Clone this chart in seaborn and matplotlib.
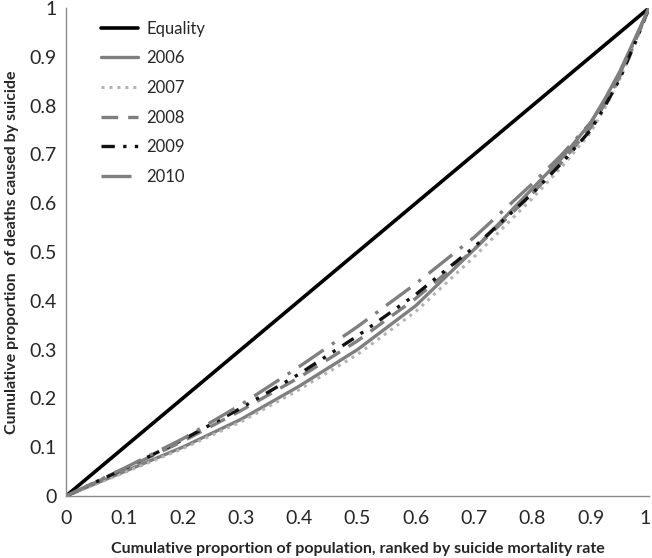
import numpy as np
import pandas as pd
import matplotlib
matplotlib.use("Agg")
import matplotlib.pyplot as plt
import matplotlib.transforms as mtransforms
import seaborn as sns


# =========================
# Data
# =========================
population_share = [0, 0.1, 0.2, 0.3, 0.4, 0.5, 0.6, 0.7, 0.8, 0.85, 0.9, 0.925, 0.95, 0.975, 1]

deaths_2006 = [0, 0.050, 0.100, 0.157, 0.225, 0.300, 0.390, 0.505, 0.630, 0.692, 0.765, 0.815, 0.870, 0.935, 1]
deaths_2007 = [0, 0.048, 0.097, 0.152, 0.218, 0.290, 0.378, 0.490, 0.610, 0.674, 0.745, 0.797, 0.855, 0.925, 1]
deaths_2008 = [0, 0.055, 0.112, 0.175, 0.243, 0.318, 0.405, 0.505, 0.620, 0.684, 0.755, 0.805, 0.860, 0.928, 1]
deaths_2009 = [0, 0.056, 0.115, 0.180, 0.250, 0.328, 0.413, 0.510, 0.620, 0.682, 0.750, 0.800, 0.855, 0.925, 1]
deaths_2010 = [0, 0.057, 0.117, 0.187, 0.265, 0.347, 0.435, 0.530, 0.640, 0.699, 0.765, 0.812, 0.865, 0.932, 1]

equality_x = [0, 1]
equality_y = [0, 1]

tick_values = [0, 0.1, 0.2, 0.3, 0.4, 0.5, 0.6, 0.7, 0.8, 0.9, 1]
tick_labels = ["0", "0.1", "0.2", "0.3", "0.4", "0.5", "0.6", "0.7", "0.8", "0.9", "1"]

years = ["2006", "2007", "2008", "2009", "2010"]
series = [deaths_2006, deaths_2007, deaths_2008, deaths_2009, deaths_2010]


# =========================
# Styles
# =========================
line_styles = {
    "2006": dict(color="#7f7f7f", linestyle="-", linewidth=2.4),
    "2007": dict(color="#b4b4b4", linestyle=(0, (1, 1.6)), linewidth=2.2),
    "2008": dict(color="#7f7f7f", linestyle=(0, (5, 3)), linewidth=2.4),
    "2009": dict(color="#111111", linestyle=(0, (4, 2.5, 1, 2.5, 1, 2.5)), linewidth=2.4),
    "2010": dict(color="#7f7f7f", linestyle=(0, (9, 3, 1, 3)), linewidth=2.4),
}

sns.set_style("white")
plt.rcParams["font.family"] = ["Lato", "DejaVu Sans"]

fig = plt.figure(figsize=(6.52, 5.58), dpi=100)
ax = fig.add_axes([0.1012, 0.1111, 0.8942, 0.8746])

sns.lineplot(x=equality_x, y=equality_y, ax=ax, color="black",
             linewidth=2.6, label="Equality")

for year, values in zip(years, series):
    df = pd.DataFrame({"x": population_share, "y": values})
    sns.lineplot(data=df, x="x", y="y", ax=ax, label=year,
                 sort=False, **line_styles[year])

ax.set_xlim(0, 1)
ax.set_ylim(0, 1)
ax.set_xticks(tick_values)
ax.set_xticklabels(tick_labels)
ax.set_yticks(tick_values)
ax.set_yticklabels(tick_labels)

ax.set_xlabel("Cumulative proportion of population, ranked by suicide mortality rate",
              fontsize=11.5, fontweight="bold", labelpad=11)
ax.set_ylabel("Cumulative proportion  of deaths caused by suicide",
              fontsize=11.5, fontweight="bold", labelpad=7)

for side in ["top", "right"]:
    ax.spines[side].set_visible(False)
for side in ["left", "bottom"]:
    ax.spines[side].set_color("#8a8a8a")
    ax.spines[side].set_linewidth(1.0)

ax.tick_params(axis="both", which="major", labelsize=14, length=4,
               width=1, color="#8a8a8a", direction="out", pad=6)
ax.tick_params(axis="y", pad=3)

# keep the last x label inside the figure
last = ax.get_xticklabels()[-1]
last.set_transform(last.get_transform() + mtransforms.ScaledTranslation(-3 / 72, 0, fig.dpi_scale_trans))

leg = ax.legend(loc="upper left", bbox_to_anchor=(0.035, 1.005), frameon=False,
                fontsize=12, handlelength=2.2, labelspacing=0.82,
                handletextpad=0.5)

fig.savefig("out.png", dpi=100)
plt.close(fig)
